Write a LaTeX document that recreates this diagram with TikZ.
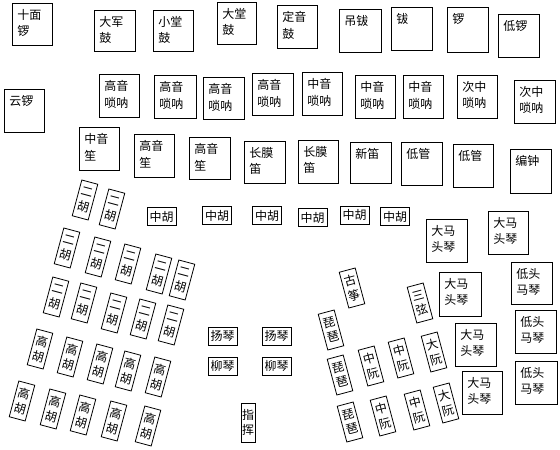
\documentclass[tikz,border=0pt]{standalone}
\usepackage{fontspec}
\newfontfamily\cjk{Noto Sans CJK SC}
\newcommand\cellbox[6]{%
  \pgfmathsetmacro\cw{#4-#2-10}%
  \pgfmathsetmacro\ch{#5-#3-12}%
  \node[cell] (#1) at (#2,#3) {\parbox[t][\ch pt][t]{\cw pt}{\raggedright #6}};}
\begin{document}
\begin{tikzpicture}[x=1pt,y=-1pt,
  every node/.style={font=\cjk\fontsize{12}{16.5}\selectfont},
  cell/.style={draw, line width=0.8pt, anchor=north west, inner xsep=5pt, inner ysep=6pt},
  hcell/.style={draw, line width=0.8pt, minimum width=29pt, minimum height=18pt, inner sep=1pt},
  vcell/.style={draw, line width=0.8pt, minimum width=16.5pt, minimum height=37pt, inner sep=0pt, align=center, font=\cjk\fontsize{12}{15}\selectfont},
  lt/.style={vcell, rotate=-15},
  rt/.style={vcell, rotate=15}]
\useasboundingbox (0,0) rectangle (560,450);
% percussion row
\cellbox{b1}{12}{3}{52}{45}{十面\\锣}
\cellbox{b2}{94}{10}{135}{51}{大军\\鼓}
\cellbox{b3}{153}{10}{193}{51}{小堂\\鼓}
\cellbox{b4}{217}{2}{256}{44}{大堂\\鼓}
\cellbox{b5}{277}{5}{317}{48}{定音\\鼓}
\cellbox{b6}{339}{9}{381}{52}{吊钹}
\cellbox{b7}{391}{7}{432}{50}{钹}
\cellbox{b8}{447}{7}{488}{52}{锣}
\cellbox{b9}{498}{14}{539}{57}{低锣}
\cellbox{b10}{4}{89}{44}{132}{云锣}
% suona row
\cellbox{b11}{99}{74}{139}{117}{高音\\唢呐}
\cellbox{b12}{154}{75}{196}{118}{高音\\唢呐}
\cellbox{b13}{203}{77}{244}{119}{高音\\唢呐}
\cellbox{b14}{252}{73}{293}{115}{高音\\唢呐}
\cellbox{b15}{302}{72}{342}{115}{中音\\唢呐}
\cellbox{b16}{355}{75}{395}{118}{中音\\唢呐}
\cellbox{b17}{403}{75}{443}{118}{中音\\唢呐}
\cellbox{b18}{457}{75}{497}{118}{次中\\唢呐}
\cellbox{b19}{514}{80}{555}{123}{次中\\唢呐}
% sheng / flute row
\cellbox{b20}{79}{127}{119}{170}{中音\\笙}
\cellbox{b21}{134}{134}{174}{177}{高音\\笙}
\cellbox{b22}{189}{137}{230}{179}{高音\\笙}
\cellbox{b23}{244}{141}{285}{183}{长膜\\笛}
\cellbox{b24}{298}{140}{338}{183}{长膜\\笛}
\cellbox{b25}{350}{142}{391}{183}{新笛}
\cellbox{b26}{401}{142}{442}{185}{低管}
\cellbox{b27}{453}{144}{493}{187}{低管}
\cellbox{b28}{510}{149}{551}{193}{编钟}
% matouqin
\cellbox{b29}{426}{219}{467}{262}{大马\\头琴}
\cellbox{b30}{488}{211}{528}{254}{大马\\头琴}
\cellbox{b31}{511}{262}{552}{304}{低头\\马琴}
\cellbox{b32}{515}{310}{556}{353}{低头\\马琴}
\cellbox{b33}{515}{361}{557}{404}{低头\\马琴}
\cellbox{b34}{439}{272}{481}{316}{大马\\头琴}
\cellbox{b35}{455}{323}{496}{366}{大马\\头琴}
\cellbox{b36}{462}{371}{502}{414}{大马\\头琴}
% zhonghu
\node[hcell] (z1) at (161.5,216.5) {中胡};
\node[hcell] (z2) at (217,215.5) {中胡};
\node[hcell] (z3) at (267,215.5) {中胡};
\node[hcell] (z4) at (312.5,217.5) {中胡};
\node[hcell] (z5) at (354.5,215) {中胡};
\node[hcell] (z6) at (395,216.5) {中胡};
% yangqin / liuqin
\node[hcell] (y1) at (222.5,336) {扬琴};
\node[hcell] (y2) at (276.5,336) {扬琴};
\node[hcell] (l1) at (222.5,366) {柳琴};
\node[hcell] (l2) at (276.5,366) {柳琴};
% conductor
\node[vcell, minimum width=14pt, minimum height=39pt] (c) at (248,422.5) {指\\挥};
% erhu
\node[lt] (e1) at (85,200) {二\\胡};
\node[lt] (e2) at (112,209) {二\\胡};
\node[lt] (e3) at (67,248) {二\\胡};
\node[lt] (e4) at (98,257) {二\\胡};
\node[lt] (e5) at (128,264) {二\\胡};
\node[lt] (e6) at (159,274) {二\\胡};
\node[lt] (e7) at (182,280) {二\\胡};
\node[lt] (e8) at (56,297) {二\\胡};
\node[lt] (e9) at (84,303) {二\\胡};
\node[lt] (e10) at (114,313) {二\\胡};
\node[lt] (e11) at (143,319) {二\\胡};
\node[lt] (e12) at (171,325) {二\\胡};
% gaohu
\node[lt] (g1) at (40,349) {高\\胡};
\node[lt] (g2) at (70,357) {高\\胡};
\node[lt] (g3) at (100,364) {高\\胡};
\node[lt] (g4) at (128,371) {高\\胡};
\node[lt] (g5) at (158,377) {高\\胡};
\node[lt] (g6) at (22,401) {高\\胡};
\node[lt] (g7) at (53,409) {高\\胡};
\node[lt] (g8) at (83,415) {高\\胡};
\node[lt] (g9) at (114,421) {高\\胡};
\node[lt] (g10) at (148,426) {高\\胡};
% plucked strings
\node[rt] (gz) at (352,288) {古\\筝};
\node[rt] (sx) at (420,303) {三\\弦};
\node[rt] (p1) at (331,330) {琵\\琶};
\node[rt] (p2) at (340,375) {琵\\琶};
\node[rt] (p3) at (350,422) {琵\\琶};
\node[rt] (r1) at (371,366) {中\\阮};
\node[rt] (r2) at (401,358) {中\\阮};
\node[rt] (d1) at (434,352) {大\\阮};
\node[rt] (r3) at (383,416) {中\\阮};
\node[rt] (r4) at (417,410) {中\\阮};
\node[rt] (d2) at (446,403) {大\\阮};
\end{tikzpicture}
\end{document}
